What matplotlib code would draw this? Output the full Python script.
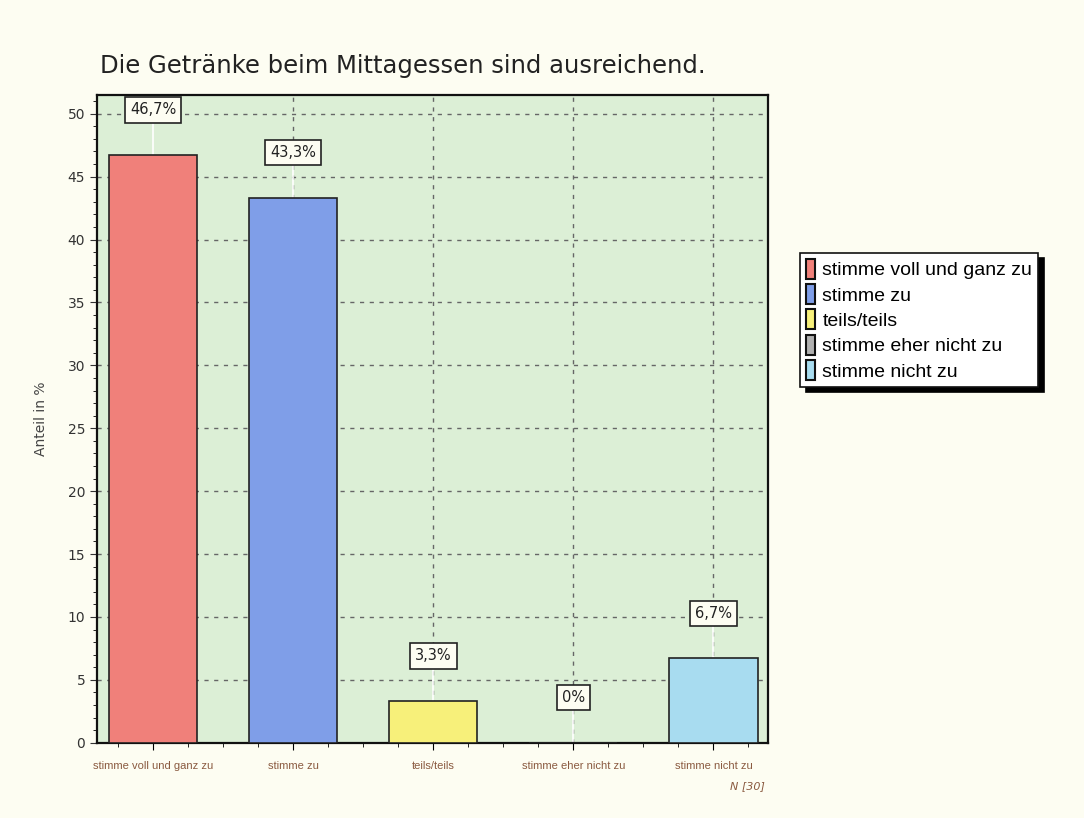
import matplotlib.pyplot as plt
from matplotlib.ticker import MultipleLocator

categories = ["stimme voll und ganz zu", "stimme zu", "teils/teils",
              "stimme eher nicht zu", "stimme nicht zu"]
values = [46.7, 43.3, 3.3, 0.0, 6.7]
labels = ["46,7%", "43,3%", "3,3%", "0%", "6,7%"]
colors = ["#f0807a", "#7f9ee8", "#f7f07a", "#b0b0b0", "#a8dcf0"]

fig = plt.figure(figsize=(10.84, 8.18), dpi=100, facecolor="#fdfdf2")
ax = fig.add_axes([0.0895, 0.092, 0.619, 0.792])
ax.set_facecolor("#dcefd6")

x = list(range(len(categories)))
ax.bar(x, values, width=0.63, color=colors, edgecolor="#222222", linewidth=1.2, zorder=3)

ax.set_xlim(-0.4, 4.39)
ax.set_ylim(0, 51.5)
ax.yaxis.set_major_locator(MultipleLocator(5))
ax.yaxis.set_minor_locator(MultipleLocator(1))
ax.xaxis.set_minor_locator(MultipleLocator(0.25))
ax.set_xticks(x)
ax.set_xticklabels(categories, fontsize=8, color="#8a5a40", family="Liberation Sans")
ax.tick_params(axis="y", labelsize=10, colors="#333333", length=5)
ax.tick_params(axis="x", length=5, pad=8)
ax.tick_params(which="minor", length=3)

ax.grid(True, axis="y", color="#666666", linestyle=(0, (3, 4)), linewidth=1.0, zorder=1)
for xi in x[1:]:
    ax.axvline(xi, color="#666666", linestyle=(0, (3, 4)), linewidth=1.0, zorder=1)

for side in ax.spines.values():
    side.set_linewidth(1.6)
    side.set_color("#111111")

for xi, v, lab in zip(x, values, labels):
    ly = v + 3.6
    ax.plot([xi, xi], [v, ly], color="white", linewidth=1.2, zorder=2)
    ax.text(xi, ly, lab, ha="center", va="center", fontsize=10.5, color="#222222", zorder=5,
            bbox=dict(boxstyle="square,pad=0.35", facecolor="#fdfdf2", edgecolor="#222222", linewidth=1.2))

ax.set_ylabel("Anteil in %", fontsize=10, color="#444444", labelpad=14)
fig.text(0.092, 0.919, "Die Getränke beim Mittagessen sind ausreichend.", fontsize=17.5,
         color="#222222", va="center")
fig.text(0.706, 0.035, "N [30]", fontsize=8, style="italic", color="#8a5a40", ha="right")

handles = [plt.Rectangle((0, 0), 1, 1, facecolor=c, edgecolor="#111111", linewidth=1.5) for c in colors]
leg = fig.legend(handles, categories, loc="upper left", bbox_to_anchor=(0.738, 0.691),
                 prop={"family": "Liberation Sans", "size": 14}, frameon=True, fancybox=False,
                 shadow={"color": "black", "alpha": 1.0, "ox": 4, "oy": -4},
                 handlelength=0.45, handleheight=1.2, handletextpad=0.4,
                 labelspacing=0.25, borderpad=0.3, borderaxespad=0)
leg.get_frame().set_edgecolor("#111111")
leg.get_frame().set_linewidth(1.2)

fig.savefig("out.png", dpi=100, facecolor=fig.get_facecolor())
